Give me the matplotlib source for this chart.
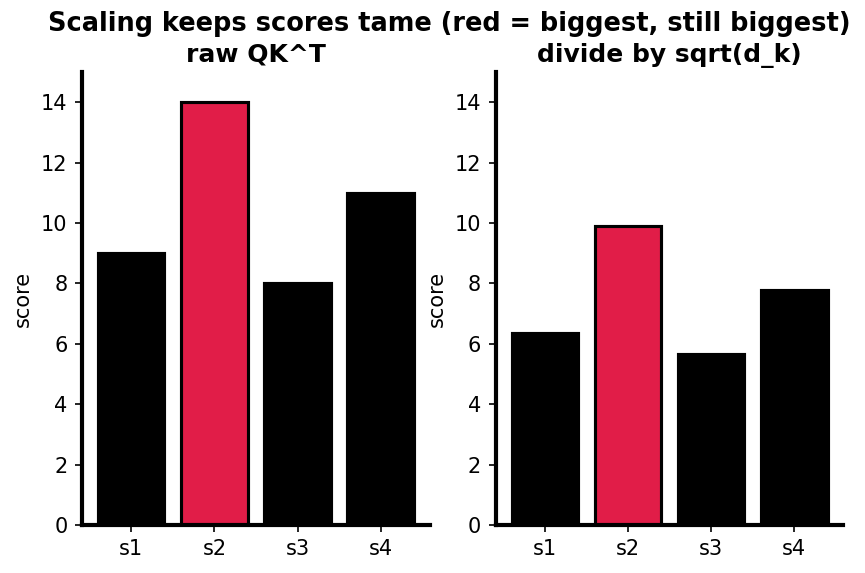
import matplotlib.pyplot as plt

# scores for four keys
keys = ['s1', 's2', 's3', 's4']
raw_scores = [9.0, 14.0, 8.0, 11.0]
scaled_scores = [6.36, 9.90, 5.66, 7.78]
panel_titles = ['raw QK^T', 'divide by sqrt(d_k)']

fig, axes = plt.subplots(1, 2, figsize=(8.65 / 1.5, 5.73 / 1.5), dpi=150)
fig.subplots_adjust(left=0.095, right=0.975, bottom=0.084, top=0.874, wspace=0.19)

for ax, scores, title in zip(axes, [raw_scores, scaled_scores], panel_titles):
    top = max(scores)
    colors = ['#e11d48' if s == top else 'black' for s in scores]
    ax.bar(keys, scores, width=0.8, color=colors, edgecolor='black', linewidth=1.5)
    ax.set_ylim(0, 15)
    ax.set_title(title, fontsize=12, fontweight='bold', pad=5)
    ax.set_ylabel('score', fontsize=10)
    ax.spines['top'].set_visible(False)
    ax.spines['right'].set_visible(False)
    ax.spines['left'].set_linewidth(2)
    ax.spines['bottom'].set_linewidth(2)
    ax.tick_params(labelsize=10)

fig.suptitle('Scaling keeps scores tame (red = biggest, still biggest)',
             fontsize=12.3, fontweight='bold', x=0.52, y=0.98)

plt.savefig('out.png', dpi=150)
